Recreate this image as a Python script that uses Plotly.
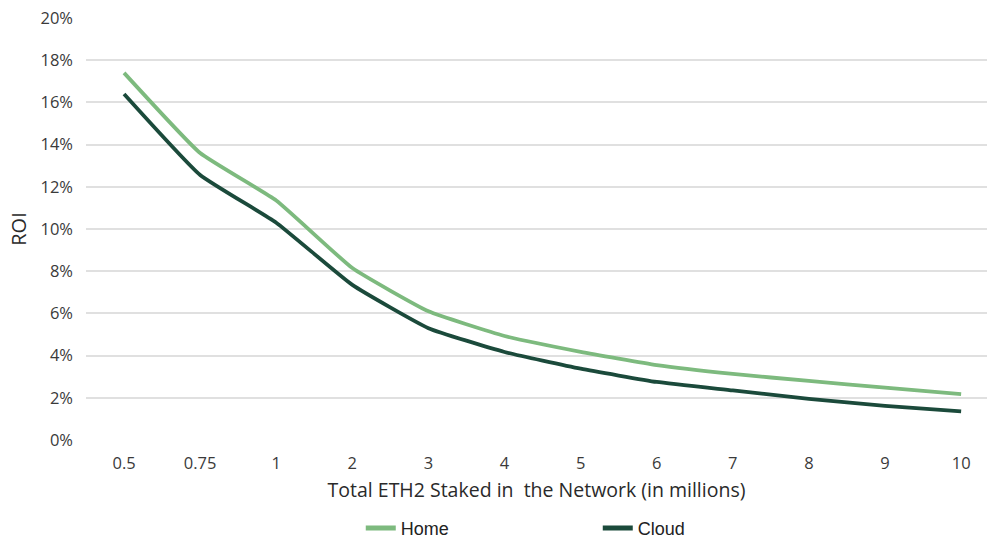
import plotly.graph_objects as go

# Total ETH2 staked (millions) and ROI (%) for each validator setup
staked = ["0.5", "0.75", "1", "2", "3", "4", "5", "6", "7", "8", "9", "10"]
home_roi = [17.4, 13.6, 11.35, 8.15, 6.1, 4.93, 4.18, 3.55, 3.13, 2.8, 2.48, 2.17]
cloud_roi = [16.4, 12.56, 10.3, 7.35, 5.3, 4.17, 3.38, 2.75, 2.35, 1.95, 1.62, 1.36]
y_ticks = list(range(0, 21, 2))

HOME_COLOR = "#7dba7e"
CLOUD_COLOR = "#1b4a3b"
FONT = "Open Sans, Lato, sans-serif"
TICK_FONT = dict(family=FONT, size=16.5, color="#3a3a3a")

fig = go.Figure()
fig.add_trace(go.Scatter(
    x=staked, y=home_roi, name="Home", mode="lines",
    line=dict(color=HOME_COLOR, width=3.8, shape="spline", smoothing=0.4),
))
fig.add_trace(go.Scatter(
    x=staked, y=cloud_roi, name="Cloud", mode="lines",
    line=dict(color=CLOUD_COLOR, width=3.8, shape="spline", smoothing=0.4),
))

fig.update_layout(
    width=987, height=539,
    margin=dict(l=86, r=0, t=18, b=99, autoexpand=False),
    plot_bgcolor="white", paper_bgcolor="white",
    xaxis=dict(
        type="category", range=[-0.5, 11.34],
        showgrid=False, zeroline=False, showline=False,
        tickfont=TICK_FONT, ticks="", ticklen=0, ticklabelstandoff=11,
        title=dict(text="Total ETH2 Staked in\u00a0 the Network (in millions)",
                   font=dict(family=FONT, size=19.5, color="#2a2a2a"),
                   standoff=10),
    ),
    yaxis=dict(
        range=[0, 20], tickvals=y_ticks, ticktext=[f"{v}%" for v in y_ticks],
        showgrid=True, gridcolor="#e0e0e0", gridwidth=1.5,
        zeroline=False, showline=False,
        tickfont=TICK_FONT, ticklabelstandoff=12,
        title=dict(text="ROI", font=dict(family=FONT, size=20, color="#2a2a2a"),
                   standoff=8),
    ),
    legend=dict(
        orientation="h", x=0.568, xanchor="center",
        yref="container", y=0.02, yanchor="middle",
        font=dict(family="Liberation Sans, Arial, sans-serif", size=18, color="#222222"),
        entrywidth=192, entrywidthmode="pixels",
        tracegroupgap=0, itemsizing="constant",
    ),
    showlegend=True,
)

fig.write_html("out.html")
